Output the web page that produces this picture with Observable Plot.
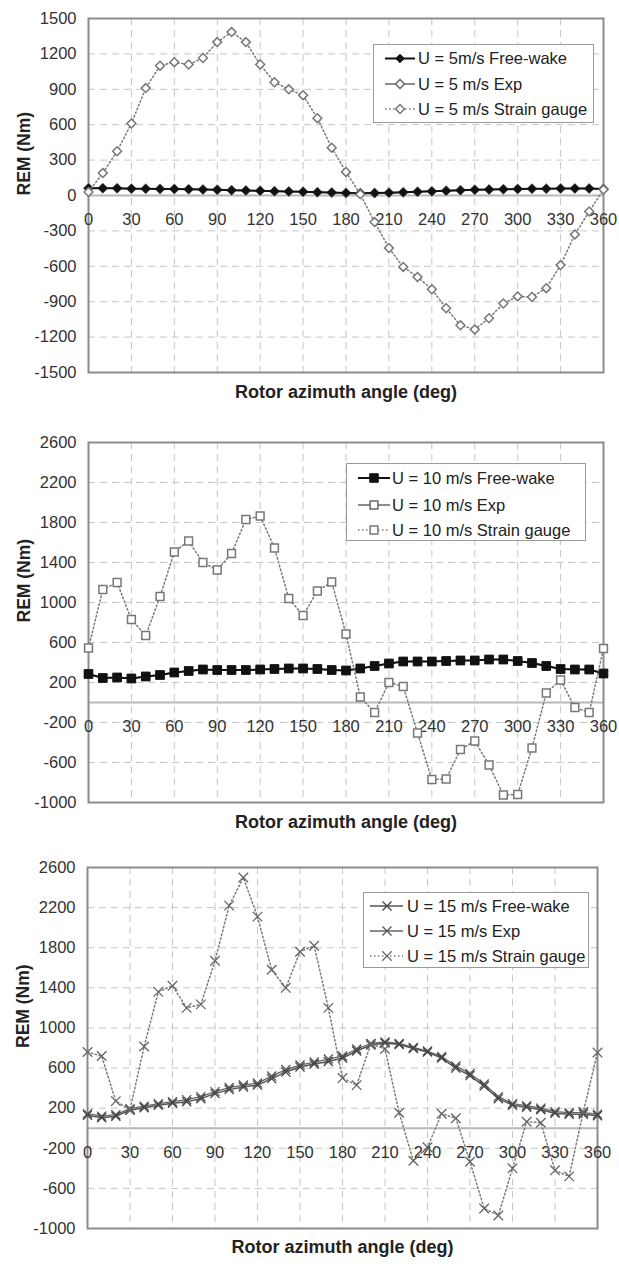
<!DOCTYPE html>
<html>
<head>
<meta charset="utf-8">
<script src="https://cdn.jsdelivr.net/npm/d3@7"></script>
<script src="https://cdn.jsdelivr.net/npm/@observablehq/plot@0.6"></script>
<style>
  body { margin: 0; background: #fff; }
  #page { position: relative; width: 619px; height: 1264px; overflow: hidden; background: #fff;
          font-family: "Liberation Sans", Arial, sans-serif; }
  .panel { position: absolute; left: 0; }
  #legends { position: absolute; left: 0; top: 0; pointer-events: none; }
</style>
</head>
<body>
<div id="page"></div>
<script>
// Rotor azimuth angles (deg)
const angles = [0, 10, 20, 30, 40, 50, 60, 70, 80, 90, 100, 110, 120, 130, 140, 150, 160, 170, 180,
  190, 200, 210, 220, 230, 240, 250, 260, 270, 280, 290, 300, 310, 320, 330, 340, 350, 360];
const xTicks = [0, 30, 60, 90, 120, 150, 180, 210, 240, 270, 300, 330, 360];
const yTicks5 = [-1500, -1200, -900, -600, -300, 0, 300, 600, 900, 1200, 1500];
const yTicks10 = [-1000, -600, -200, 200, 600, 1000, 1400, 1800, 2200, 2600];
const yTicks15 = [-1000, -600, -200, 200, 600, 1000, 1400, 1800, 2200, 2600];

// REM (Nm), U = 5 m/s
const free5 = [62, 62, 61, 58, 57, 56, 55, 53, 50, 48, 45, 43, 40, 37, 34, 31, 28, 25, 22,
  20, 21, 23, 27, 31, 35, 40, 44, 48, 51, 53, 55, 57, 58, 59, 60, 59, 55];
const exp5 = [62, 62, 61, 58, 57, 56, 55, 53, 50, 48, 45, 43, 40, 37, 34, 31, 28, 25, 22,
  20, 21, 23, 27, 31, 35, 40, 44, 48, 51, 53, 55, 57, 58, 59, 60, 59, 55];
const strain5 = [30, 190, 375, 610, 910, 1100, 1130, 1110, 1165, 1300, 1385, 1300, 1110, 960, 900, 850, 655, 405, 200,
  10, -225, -445, -605, -690, -795, -955, -1100, -1135, -1040, -915, -855, -860, -785, -590, -330, -135, 50];

// REM (Nm), U = 10 m/s
const free10 = [285, 245, 250, 240, 260, 275, 300, 315, 330, 325, 325, 325, 330, 335, 340, 340, 335, 325, 320,
  340, 365, 390, 410, 410, 410, 415, 420, 420, 430, 430, 415, 395, 365, 335, 330, 330, 290];
const exp10 = [285, 245, 250, 240, 260, 275, 300, 315, 330, 325, 325, 325, 330, 335, 340, 340, 335, 325, 320,
  340, 365, 390, 410, 410, 410, 415, 420, 420, 430, 430, 415, 395, 365, 335, 330, 330, 290];
const strain10 = [545, 1130, 1200, 830, 670, 1060, 1505, 1615, 1400, 1325, 1490, 1830, 1865, 1545, 1040, 870, 1115, 1205, 685,
  55, -100, 200, 160, -305, -770, -765, -470, -385, -625, -925, -920, -455, 95, 225, -50, -100, 540];

// REM (Nm), U = 15 m/s
const free15 = [130, 105, 120, 180, 205, 230, 250, 265, 295, 345, 385, 410, 430, 495, 560, 610, 640, 665, 700,
  770, 830, 850, 835, 795, 760, 700, 600, 525, 420, 295, 230, 210, 185, 150, 140, 140, 125];
const exp15 = [145, 120, 135, 195, 220, 245, 265, 285, 315, 365, 405, 430, 450, 520, 585, 630, 660, 690, 720,
  790, 845, 860, 845, 805, 770, 715, 620, 545, 440, 315, 245, 225, 200, 165, 155, 155, 140];
const strain15 = [760, 720, 270, 185, 815, 1360, 1420, 1200, 1235, 1670, 2220, 2500, 2110, 1580, 1400, 1760, 1820, 1200, 500,
  430, 840, 790, 155, -325, -190, 145, 100, -335, -800, -870, -400, 65, 55, -420, -480, 165, 755];

const rows = (values) => angles.map((a, i) => ({angle: a, rem: values[i]}));

// plain integer labels with an ASCII hyphen for negatives
const plainNumber = (d) => String(d);

// line / marker styles
const solidBlack = {stroke: "#111", strokeWidth: 2};
const solidGray = {stroke: "#555", strokeWidth: 1.5};
const dotted = {stroke: "#7a7a7a", strokeWidth: 1.5, strokeDasharray: "1.5,2.5"};

const panels = [
  {
    top: 0, height: 420, mt: 18, mb: 48, ml: 88, mr: 16, titleDy: 25,
    yDomain: [-1500, 1500], yTicks: yTicks5,
    legend: {x: 373, y: 44, w: 220, h: 78, lineX: [385, 415], markX: 400, textX: 418, rows: [58.5, 84, 109]},
    series: [
      {label: "U = 5 m/s Exp", values: exp5, line: {stroke: "#666", strokeWidth: 1.5},
        dot: {symbol: "diamond2", r: 4, fill: "#fff", stroke: "#666", strokeWidth: 1.5}},
      {label: "U = 5m/s Free-wake", values: free5, line: solidBlack,
        dot: {symbol: "diamond2", r: 3.8, fill: "#111", stroke: "#111", strokeWidth: 1}},
      {label: "U = 5 m/s Strain gauge", values: strain5, line: dotted,
        dot: {symbol: "diamond2", r: 4, fill: "#fff", stroke: "#777", strokeWidth: 1.5}}
    ],
    legendOrder: [1, 0, 2]
  },
  {
    top: 424, height: 420, mt: 18, mb: 42, ml: 88, mr: 16, titleDy: 25,
    yDomain: [-1000, 2600], yTicks: yTicks10,
    legend: {x: 346, y: 463, w: 239, h: 77, lineX: [358, 390], markX: 374, textX: 392, rows: [478, 505, 530]},
    series: [
      {label: "U = 10 m/s Exp", values: exp10, line: {stroke: "#666", strokeWidth: 1.5},
        dot: {symbol: "square", r: 4.4, fill: "#fff", stroke: "#666", strokeWidth: 1.5}},
      {label: "U = 10 m/s Free-wake", values: free10, line: solidBlack,
        dot: {symbol: "square", r: 4.8, fill: "#111", stroke: "#111", strokeWidth: 1}},
      {label: "U = 10 m/s Strain gauge", values: strain10, line: dotted,
        dot: {symbol: "square", r: 4.4, fill: "#fff", stroke: "#777", strokeWidth: 1.5}}
    ],
    legendOrder: [1, 0, 2]
  },
  {
    top: 849, height: 415, mt: 18, mb: 36, ml: 87, mr: 22, titleDy: 24,
    yDomain: [-1000, 2600], yTicks: yTicks15,
    legend: {x: 363, y: 892, w: 225, h: 75, lineX: [370, 403], markX: 387, textX: 407, rows: [906, 931, 956]},
    series: [
      {label: "U = 15 m/s Exp", values: exp15, line: {stroke: "#666", strokeWidth: 1.3},
        dot: {symbol: "times", r: 4.2, stroke: "#555", strokeWidth: 1.3}},
      {label: "U = 15 m/s Free-wake", values: free15, line: solidGray,
        dot: {symbol: "times", r: 4.2, stroke: "#444", strokeWidth: 1.3}},
      {label: "U = 15 m/s Strain gauge", values: strain15, line: dotted,
        dot: {symbol: "times", r: 4.4, stroke: "#666", strokeWidth: 1.3}}
    ],
    legendOrder: [1, 0, 2]
  }
];

const page = document.getElementById("page");

for (const p of panels) {
  const marks = [
    Plot.gridX(xTicks, {stroke: "#c6c6c6", strokeOpacity: 1, strokeDasharray: "7,5"}),
    Plot.gridY(p.yTicks, {stroke: "#c6c6c6", strokeOpacity: 1, strokeDasharray: "7,5"}),
    Plot.ruleY([0], {stroke: "#b8b8b8", strokeWidth: 2}),
    Plot.frame({stroke: "#8c8c8c", strokeWidth: 2}),
    Plot.axisY(p.yTicks, {tickSize: 0, tickPadding: 12, fontSize: 16.5, color: "#333", label: null,
      tickFormat: plainNumber}),
    // x tick labels sit just under the zero line
    Plot.text(xTicks, {x: (d) => d, y: () => 0, dy: 24, text: plainNumber, fontSize: 16.5, fill: "#333"}),
    Plot.text(["REM (Nm)"], {frameAnchor: "left", rotate: -90, dx: -64, text: (d) => d,
      fontWeight: "bold", fontSize: 17.5, fill: "#222"}),
    Plot.text(["Rotor azimuth angle (deg)"], {frameAnchor: "bottom", dy: p.titleDy, text: (d) => d,
      fontWeight: "bold", fontSize: 18, fill: "#222"})
  ];
  for (const s of p.series) {
    const data = rows(s.values);
    marks.push(Plot.line(data, {x: "angle", y: "rem", ...s.line}));
    marks.push(Plot.dot(data, {x: "angle", y: "rem", ...s.dot}));
  }
  const chart = Plot.plot({
    width: 619,
    height: p.height,
    marginTop: p.mt,
    marginBottom: p.mb,
    marginLeft: p.ml,
    marginRight: p.mr,
    style: {fontFamily: "'Liberation Sans', Arial, sans-serif", background: "#fff", overflow: "visible"},
    x: {domain: [0, 360], axis: null},
    y: {domain: p.yDomain, axis: null},
    marks
  });
  chart.classList.add("panel");
  chart.style.top = p.top + "px";
  page.appendChild(chart);
}

// Legends drawn in an overlay layer
const overlay = d3.select(page).append("svg")
  .attr("id", "legends")
  .attr("width", 619)
  .attr("height", 1264)
  .style("font-family", "'Liberation Sans', Arial, sans-serif");

const symbolTypes = {diamond2: d3.symbolDiamond2, square: d3.symbolSquare, times: d3.symbolTimes};

for (const p of panels) {
  const L = p.legend;
  overlay.append("rect")
    .attr("x", L.x + 0.5).attr("y", L.y + 0.5)
    .attr("width", L.w).attr("height", L.h)
    .attr("fill", "#fff").attr("stroke", "#9a9a9a").attr("stroke-width", 1);
  p.legendOrder.forEach((si, k) => {
    const s = p.series[si];
    const y = L.rows[k];
    overlay.append("line")
      .attr("x1", L.lineX[0]).attr("x2", L.lineX[1]).attr("y1", y).attr("y2", y)
      .attr("stroke", s.line.stroke).attr("stroke-width", s.line.strokeWidth)
      .attr("stroke-dasharray", s.line.strokeDasharray || null);
    const sym = d3.symbol(symbolTypes[s.dot.symbol], Math.PI * s.dot.r * s.dot.r);
    overlay.append("path")
      .attr("d", sym())
      .attr("transform", `translate(${L.markX},${y})`)
      .attr("fill", s.dot.fill || "none")
      .attr("stroke", s.dot.stroke)
      .attr("stroke-width", s.dot.strokeWidth);
    overlay.append("text")
      .attr("x", L.textX).attr("y", y).attr("dy", "0.35em")
      .attr("font-size", 16.5).attr("fill", "#222")
      .text(s.label);
  });
}
</script>
</body>
</html>
